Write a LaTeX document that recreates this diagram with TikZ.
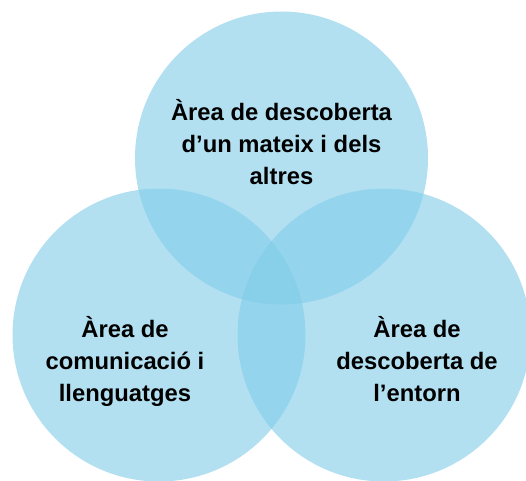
\documentclass[tikz,border=0pt]{standalone}
\usepackage{fontspec}
\setmainfont{Liberation Sans}
\definecolor{vennblue}{RGB}{128,204,232}
\begin{document}
\begin{tikzpicture}[x=1pt,y=-1pt,
  venn/.style={fill=vennblue,fill opacity=0.6,draw=none},
  lbl/.style={align=center,text=black,font=\fontsize{23.8}{31.6}\selectfont\bfseries,inner sep=0pt,anchor=base}]
\useasboundingbox (0,0) rectangle (526,480);
\clip (0,0) rectangle (526,480);
\fill[venn] (281.5,158) circle[radius=146.5];
\fill[venn] (159,335) circle[radius=146.5];
\fill[venn] (384,335) circle[radius=146.5];
\node[lbl] (top) at (281.5,184) {Àrea de descoberta\\d’un mateix i dels\\altres};
\node[lbl] (left) at (125,401) {Àrea de\\comunicació i\\llenguatges};
\node[lbl] (right) at (417,401) {Àrea de\\descoberta de\\l’entorn};
\end{tikzpicture}
\end{document}
